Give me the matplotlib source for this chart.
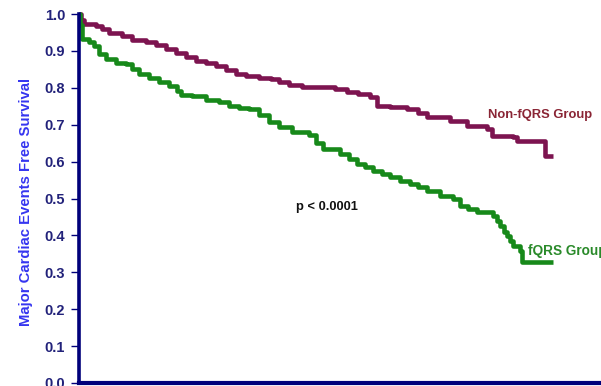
import matplotlib
matplotlib.use("Agg")
import matplotlib.pyplot as plt

plt.rcParams['font.family'] = ['Liberation Sans', 'DejaVu Sans']

# Kaplan-Meier estimates (time in months, event-free survival)
non_fqrs_time = [0, 0.5, 1.2, 4.2, 5.7, 7.5, 10.7, 13.2, 16.7, 19.2, 21.7, 24.2, 26.7,
                 29.1, 31.6, 34.1, 36.6, 39.1, 41.6, 44.8, 47.8, 49.8, 52.3, 55.5,
                 63.8, 66.8, 69.5, 72.5, 74.2, 77.5, 81.7, 84.4, 86.7, 92.4, 96.6,
                 101.6, 102.9, 108.1, 109.1, 116.1, 118.1]
non_fqrs_surv = [1.0, 0.985, 0.973, 0.967, 0.959, 0.949, 0.940, 0.930, 0.924, 0.916,
                 0.905, 0.894, 0.883, 0.873, 0.867, 0.859, 0.848, 0.837, 0.832, 0.827,
                 0.824, 0.816, 0.808, 0.802, 0.797, 0.789, 0.783, 0.775, 0.751, 0.748,
                 0.743, 0.732, 0.721, 0.710, 0.697, 0.688, 0.669, 0.667, 0.656, 0.615,
                 0.615]

fqrs_time = [0, 0.25, 0.75, 2.5, 3.7, 5.0, 6.7, 9.2, 11.7, 13.2, 14.9, 17.4, 19.9,
             22.4, 24.4, 25.4, 28.1, 31.6, 34.9, 37.4, 39.9, 42.3, 44.8, 47.3, 49.8,
             53.1, 57.3, 59.0, 60.8, 65.0, 67.2, 69.3, 71.2, 73.2, 75.5, 77.4, 80.0,
             82.4, 84.4, 86.7, 89.9, 93.2, 94.9, 96.9, 99.2, 103.1, 104.1, 104.9,
             105.9, 106.6, 107.3, 108.1, 109.9, 110.4, 118.1]
fqrs_surv = [1.0, 0.97, 0.932, 0.924, 0.913, 0.892, 0.878, 0.867, 0.864, 0.851, 0.837,
             0.827, 0.816, 0.805, 0.791, 0.780, 0.778, 0.767, 0.762, 0.751, 0.745,
             0.743, 0.726, 0.707, 0.694, 0.680, 0.672, 0.650, 0.634, 0.621, 0.607,
             0.594, 0.585, 0.575, 0.566, 0.558, 0.548, 0.539, 0.530, 0.520, 0.507,
             0.499, 0.480, 0.472, 0.463, 0.453, 0.440, 0.425, 0.410, 0.398, 0.385,
             0.371, 0.358, 0.328, 0.328]

y_ticks = [0.0, 0.1, 0.2, 0.3, 0.4, 0.5, 0.6, 0.7, 0.8, 0.9, 1.0]
y_tick_labels = ["0.0", "0.1", "0.2", "0.3", "0.4", "0.5", "0.6", "0.7", "0.8", "0.9", "1.0"]

maroon = "#7d1450"
green = "#17891a"
navy = "#00007a"

fig = plt.figure(figsize=(6.01, 3.86), dpi=100)
ax = fig.add_axes([79 / 601, 3 / 386, 530 / 601, 369 / 386])

ax.plot(non_fqrs_time, non_fqrs_surv, drawstyle="steps-post", color=maroon,
        lw=3.3, clip_on=False, solid_joinstyle="round", solid_capstyle="butt", zorder=3)
ax.plot(fqrs_time, fqrs_surv, drawstyle="steps-post", color=green,
        lw=3.3, clip_on=False, solid_joinstyle="round", solid_capstyle="butt", zorder=3)

ax.set_xlim(0, 132)
ax.set_ylim(0, 1.0)

for side in ("top", "right"):
    ax.spines[side].set_visible(False)
ax.spines["left"].set_color(navy)
ax.spines["left"].set_linewidth(2.6)
ax.spines["bottom"].set_color(navy)
ax.spines["bottom"].set_linewidth(3.0)
ax.spines["left"].set_zorder(4)

ax.set_yticks(y_ticks)
ax.set_yticklabels(y_tick_labels, fontsize=10.5, fontweight="bold", color="#22227a")
ax.tick_params(axis="y", direction="out", length=6, width=1.0, color=navy, pad=4)
ax.set_xticks([])

fig.text(26 / 601, 1 - 202 / 386, "Major Cardiac Events Free Survival",
         rotation=90, ha="center", va="center", fontsize=10.7, fontweight="bold",
         color="#3535f0")

ax.text(61.8, 0.477, "p < 0.0001", ha="center", va="center", fontsize=9.3,
        fontweight="bold", color="#111111")
ax.text(101.9, 0.727, "Non-fQRS Group", ha="left", va="center", fontsize=9.4,
        fontweight="bold", color="#8a2535", clip_on=False)
ax.text(111.8, 0.357, "fQRS Group", ha="left", va="center", fontsize=9.8,
        fontweight="bold", color="#2a8a2a", clip_on=False)

fig.savefig("out.png", dpi=100)
